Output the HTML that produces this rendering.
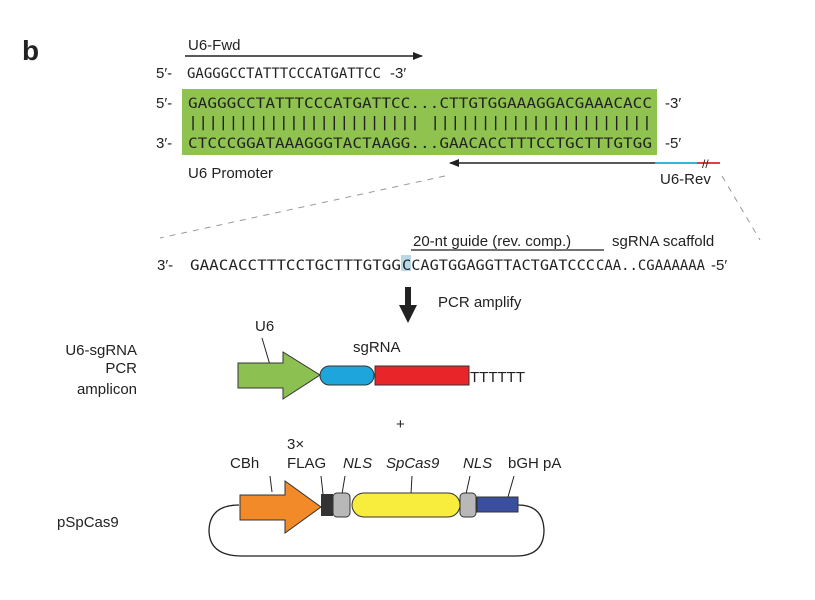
<!DOCTYPE html>
<html><head><meta charset="utf-8"><style>
body{margin:0;background:#fff}
svg{display:block}
.s{font-family:"Liberation Sans",sans-serif;font-size:15px;fill:#222}
.m{font-family:"DejaVu Sans Mono",monospace;font-size:14px;fill:#222}
</style></head><body>
<svg width="815" height="600" viewBox="0 0 815 600" xmlns="http://www.w3.org/2000/svg">
<defs><marker id="ah" markerWidth="10" markerHeight="8" refX="9" refY="4" orient="auto" markerUnits="userSpaceOnUse"><path d="M0,0 L10,4 L0,8 z" fill="#222"/></marker></defs>
<text x="22" y="60" font-family="Liberation Sans,sans-serif" font-size="28" font-weight="bold" fill="#222">b</text>

<text class="s" x="188" y="50">U6-Fwd</text>
<line x1="185" y1="56" x2="422" y2="56" stroke="#222" stroke-width="1.6" marker-end="url(#ah)"/>
<text class="s" x="156" y="78">5′-</text>
<text class="m" x="187" y="78" textLength="194" lengthAdjust="spacingAndGlyphs">GAGGGCCTATTTCCCATGATTCC</text>
<text class="s" x="390" y="78">-3′</text>

<rect x="182" y="89" width="475" height="66" fill="#8fc24f"/>
<text class="s" x="156" y="108">5′-</text>
<text class="m" x="188" y="108" textLength="464" lengthAdjust="spacingAndGlyphs">GAGGGCCTATTTCCCATGATTCC...CTTGTGGAAAGGACGAAACACC</text>
<text class="s" x="665" y="108">-3′</text>
<text class="m" x="188" y="127" textLength="464" lengthAdjust="spacingAndGlyphs">|||||||||||||||||||||||   ||||||||||||||||||||||</text>
<text class="s" x="156" y="148">3′-</text>
<text class="m" x="188" y="148" textLength="464" lengthAdjust="spacingAndGlyphs">CTCCCGGATAAAGGGTACTAAGG...GAACACCTTTCCTGCTTTGTGG</text>
<text class="s" x="665" y="148">-5′</text>
<text class="s" x="188" y="178">U6 Promoter</text>
<line x1="656" y1="163" x2="450" y2="163" stroke="#222" stroke-width="1.6" marker-end="url(#ah)"/>
<line x1="655" y1="163" x2="697" y2="163" stroke="#3ab4d4" stroke-width="2"/>
<line x1="697" y1="163" x2="720" y2="163" stroke="#e04040" stroke-width="2"/>
<text x="702" y="168" font-family="Liberation Sans,sans-serif" font-size="12" fill="#222">//</text>
<text class="s" x="660" y="184">U6-Rev</text>
<line x1="445" y1="176" x2="160" y2="238" stroke="#999" stroke-dasharray="6,6"/>
<line x1="722" y1="176" x2="760" y2="240" stroke="#999" stroke-dasharray="6,6"/>

<text class="s" x="413" y="246">20-nt guide (rev. comp.)</text>
<line x1="411" y1="250" x2="604" y2="250" stroke="#222" stroke-width="1.2"/>
<text class="s" x="612" y="246">sgRNA scaffold</text>
<rect x="401" y="255" width="10" height="16" fill="#b8d8e8"/>
<text class="s" x="157" y="270">3′-</text>
<text class="m" x="190" y="270" textLength="211" lengthAdjust="spacingAndGlyphs">GAACACCTTTCCTGCTTTGTGG</text>
<text class="m" x="402" y="270" textLength="193" lengthAdjust="spacingAndGlyphs" fill="#2aa5c8">CCAGTGGAGGTTACTGATCCC</text>
<text class="m" x="596" y="270" textLength="109" lengthAdjust="spacingAndGlyphs" fill="#d8383c">CAA..CGAAAAAA</text>
<text class="s" x="711" y="270">-5′</text>

<rect x="405" y="287" width="6" height="20" fill="#222"/>
<path d="M399,305 L417,305 L408,323 z" fill="#222"/>
<text class="s" x="438" y="307">PCR amplify</text>

<text class="s" x="137" y="355" text-anchor="end">U6-sgRNA</text>
<text class="s" x="137" y="373" text-anchor="end">PCR</text>
<text class="s" x="137" y="394" text-anchor="end">amplicon</text>
<text class="s" x="255" y="331">U6</text>
<line x1="262" y1="338" x2="270" y2="365" stroke="#222"/>
<text class="s" x="353" y="352">sgRNA</text>
<path d="M238,363 L283,363 L283,352 L320,375 L283,399 L283,388 L238,388 z" fill="#8cc152" stroke="#333"/>
<rect x="320" y="366" width="54" height="19" rx="9.5" fill="#1ea6dc" stroke="#333"/>
<rect x="375" y="366" width="94" height="19" fill="#e8262a" stroke="#333"/>
<text class="s" x="470" y="382" font-size="14">TTTTTT</text>

<text class="s" x="396" y="429">+</text>

<text class="s" x="287" y="449">3×</text>
<text class="s" x="230" y="468">CBh</text>
<text class="s" x="287" y="468">FLAG</text>
<text class="s" x="343" y="468" font-style="italic">NLS</text>
<text class="s" x="386" y="468" font-style="italic">SpCas9</text>
<text class="s" x="463" y="468" font-style="italic">NLS</text>
<text class="s" x="508" y="468">bGH pA</text>
<line x1="270" y1="476" x2="272" y2="492" stroke="#222"/>
<line x1="321" y1="476" x2="323" y2="494" stroke="#222"/>
<line x1="345" y1="476" x2="342" y2="494" stroke="#222"/>
<line x1="412" y1="476" x2="411" y2="494" stroke="#222"/>
<line x1="470" y1="476" x2="466" y2="494" stroke="#222"/>
<line x1="514" y1="476" x2="508" y2="497" stroke="#222"/>
<path d="M239,505 Q210,505 209,530 Q209,556 242,556 L516,556 Q544,556 544,530 Q543,505 518,505" fill="none" stroke="#222" stroke-width="1.3"/>
<path d="M240,495 L285,495 L285,481 L321,507 L285,533 L285,520 L240,520 z" fill="#f28a2a" stroke="#333"/>
<rect x="321" y="494" width="12" height="22" fill="#333"/>
<rect x="333" y="493" width="17" height="24" rx="4" fill="#b8b8b8" stroke="#333"/>
<rect x="352" y="493" width="108" height="24" rx="12" fill="#f8ec3c" stroke="#333"/>
<rect x="460" y="493" width="16" height="24" rx="4" fill="#b8b8b8" stroke="#333"/>
<rect x="477" y="497" width="41" height="15" fill="#3a4fa0" stroke="#333"/>
<text class="s" x="57" y="527">pSpCas9</text>
</svg>
</body></html>
